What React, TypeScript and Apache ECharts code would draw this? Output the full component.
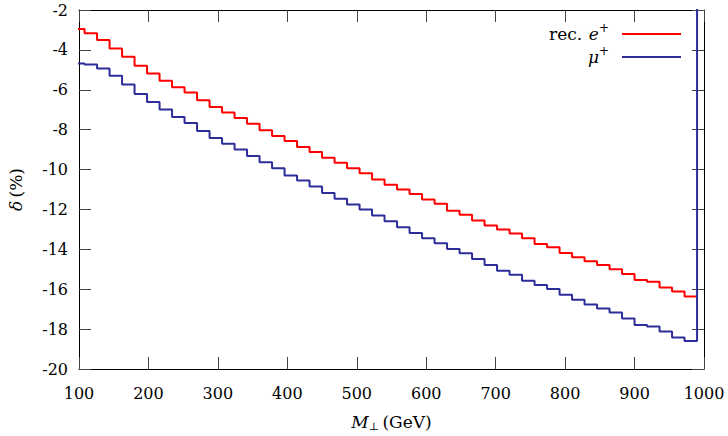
import React, { useEffect, useRef } from "react";
import * as echarts from "echarts";

// Bin centres of M_perp (GeV), 18 GeV wide bins
const mPerp = [
  99, 117, 135, 153, 171, 189, 207, 225, 243, 261,
  279, 297, 315, 333, 351, 369, 387, 405, 423, 441,
  459, 477, 495, 513, 531, 549, 567, 585, 603, 621,
  639, 657, 675, 693, 711, 729, 747, 765, 783, 801,
  819, 837, 855, 873, 891, 909, 927, 945, 963, 981,
];
const BIN_WIDTH = 18;

// delta (%) for reconstructed e+
const recE = [
  -2.95, -3.17, -3.51, -3.93, -4.35, -4.8, -5.18, -5.55, -5.87, -6.14,
  -6.52, -6.86, -7.14, -7.41, -7.7, -8.03, -8.32, -8.57, -8.87, -9.12,
  -9.41, -9.66, -9.93, -10.18, -10.5, -10.76, -11.0, -11.22, -11.5, -11.72,
  -12.06, -12.26, -12.56, -12.81, -13.0, -13.2, -13.45, -13.73, -13.9, -14.18,
  -14.4, -14.6, -14.78, -15.0, -15.24, -15.54, -15.62, -15.91, -16.11, -16.36,
];

// delta (%) for mu+
const mu = [
  -4.68, -4.73, -4.93, -5.3, -5.74, -6.21, -6.61, -6.99, -7.37, -7.67,
  -8.07, -8.42, -8.7, -9.0, -9.32, -9.63, -9.93, -10.3, -10.55, -10.85,
  -11.17, -11.47, -11.75, -12.0, -12.3, -12.59, -12.89, -13.18, -13.45, -13.7,
  -13.98, -14.2, -14.49, -14.78, -15.07, -15.27, -15.57, -15.79, -15.99, -16.28,
  -16.53, -16.77, -16.97, -17.17, -17.47, -17.79, -17.87, -18.12, -18.42, -18.59,
];
// off-scale value the mu+ histogram jumps to after its last bin
const muTail = 6;

const xTicks = { min: 100, max: 1000, step: 100 };
const yTicks = { min: -20, max: -2, step: 2 };

const FONT = "DejaVu Serif";

function histSteps(centers: number[], values: number[], tail?: number) {
  const pts: number[][] = centers.map((c, i) => [c - BIN_WIDTH / 2, values[i]]);
  const end = centers[centers.length - 1] + BIN_WIDTH / 2;
  pts.push([end, values[values.length - 1]]);
  if (tail !== undefined) pts.push([end, tail]);
  return pts;
}

export default function App() {
  const ref = useRef<HTMLDivElement>(null);

  useEffect(() => {
    document.body.style.margin = "0";
    const chart = echarts.init(ref.current!, undefined, { renderer: "svg" });

    const tickStyle = { inside: true, length: 12, lineStyle: { color: "#444", width: 1 } };
    const lineStyle = { show: true, lineStyle: { color: "#000", width: 1 } };
    const labelStyle = {
      fontFamily: FONT,
      fontSize: 16,
      color: "#000",
      formatter: (v: number) => String(v),
    };

    const xBase = {
      type: "value" as const,
      min: xTicks.min,
      max: xTicks.max,
      interval: xTicks.step,
      axisLine: lineStyle,
      axisTick: tickStyle,
      splitLine: { show: false },
    };
    const yBase = {
      type: "value" as const,
      min: yTicks.min,
      max: yTicks.max,
      interval: yTicks.step,
      axisLine: lineStyle,
      axisTick: tickStyle,
      splitLine: { show: false },
    };

    chart.setOption({
      animation: false,
      backgroundColor: "#fff",
      grid: { left: 79, right: 24, top: 10, bottom: 67, containLabel: false, outerBoundsMode: "none" },
      xAxis: [
        {
          ...xBase,
          position: "bottom",
          axisLabel: { ...labelStyle, margin: 16 },
          name: "{i|M}{s|⊥} {n|(GeV)}",
          nameLocation: "middle",
          nameGap: 43,
          nameTextStyle: {
            rich: {
              i: { fontFamily: FONT, fontStyle: "italic", fontSize: 17, color: "#000", lineHeight: 20, verticalAlign: "middle" },
              s: { fontFamily: FONT, fontSize: 11, color: "#000", lineHeight: 20, verticalAlign: "bottom" },
              n: { fontFamily: FONT, fontSize: 17, color: "#000", lineHeight: 20, verticalAlign: "middle" },
            },
          },
        },
        { ...xBase, position: "top", axisLabel: { show: false } },
      ],
      yAxis: [
        {
          ...yBase,
          position: "left",
          axisLabel: { ...labelStyle, margin: 11 },
          name: "{i|δ} {n|(%)}",
          nameLocation: "middle",
          nameGap: 55,
          nameTextStyle: {
            rich: {
              i: { fontFamily: FONT, fontStyle: "italic", fontSize: 17, color: "#000" },
              n: { fontFamily: FONT, fontSize: 17, color: "#000" },
            },
          },
        },
        { ...yBase, position: "right", axisLabel: { show: false } },
      ],
      graphic: [
        {
          type: "text",
          right: 119,
          top: 22,
          style: {
            text: "{n|rec.}  {i|e}{p|+}",
            rich: {
              n: { fontFamily: FONT, fontSize: 17, fill: "#000", lineHeight: 24, verticalAlign: "middle" },
              i: { fontFamily: FONT, fontStyle: "italic", fontSize: 17, fill: "#000", lineHeight: 24, verticalAlign: "middle" },
              p: { fontFamily: FONT, fontSize: 12, fill: "#000", lineHeight: 24, verticalAlign: "top" },
            },
          },
        },
        {
          type: "text",
          right: 119,
          top: 45,
          style: {
            text: "{i|μ}{p|+}",
            rich: {
              i: { fontFamily: FONT, fontStyle: "italic", fontSize: 17, fill: "#000", lineHeight: 24, verticalAlign: "middle" },
              p: { fontFamily: FONT, fontSize: 12, fill: "#000", lineHeight: 24, verticalAlign: "top" },
            },
          },
        },
        {
          type: "line",
          shape: { x1: 622, y1: 34, x2: 681, y2: 34 },
          style: { stroke: "#ff0000", lineWidth: 2 },
        },
        {
          type: "line",
          shape: { x1: 622, y1: 57, x2: 681, y2: 57 },
          style: { stroke: "#2d2d9a", lineWidth: 2 },
        },
      ],
      series: [
        {
          name: "rec. e+",
          type: "line",
          step: "end",
          showSymbol: false,
          symbol: "none",
          clip: true,
          xAxisIndex: 0,
          yAxisIndex: 0,
          lineStyle: { color: "#ff0000", width: 2 },
          itemStyle: { color: "#ff0000" },
          data: histSteps(mPerp, recE),
        },
        {
          name: "μ+",
          type: "line",
          step: "end",
          showSymbol: false,
          symbol: "none",
          clip: true,
          xAxisIndex: 0,
          yAxisIndex: 0,
          lineStyle: { color: "#2d2d9a", width: 2 },
          itemStyle: { color: "#2d2d9a" },
          data: histSteps(mPerp, mu, muTail),
        },
      ],
    });

    return () => chart.dispose();
  }, []);

  return <div ref={ref} style={{ width: 728, height: 436 }} />;
}
